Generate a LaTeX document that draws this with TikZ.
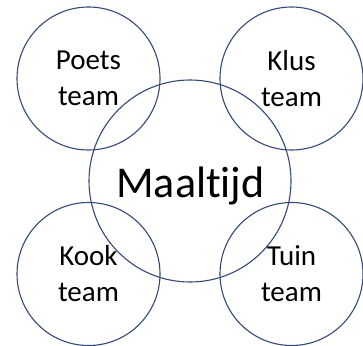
\documentclass[tikz,border=0pt]{standalone}
\usepackage{fontspec}
\setmainfont[Ligatures=NoCommon]{Carlito}

\definecolor{ringblue}{RGB}{52,74,118}

\tikzset{
	ring/.style={circle,draw=ringblue,line width=1.1pt,inner sep=0pt,minimum size=#1},
	teamtext/.style={align=center,font=\fontsize{29}{36}\selectfont},
}

\begin{document}
\begin{tikzpicture}[x=1pt,y=-1pt]
	% Fix the page to the size of the picture:
	\useasboundingbox (0,0) rectangle (363,345);

	% The four team circles, text centered inside:
	\node [ring=143pt,teamtext] (poets) at (88.5,78.5)  {Poets\\team};
	\node [ring=143pt,teamtext] (klus)  at (291.5,78.5) {Klus\\team};
	\node [ring=143pt,teamtext] (kook)  at (88.5,274)   {Kook\\team};
	\node [ring=143pt,teamtext] (tuin)  at (291.5,274)  {Tuin\\team};

	% The big circle in the middle overlaps all four:
	\node [ring=202pt] (maaltijd) at (190,181) {};
	\node [anchor=base,font=\fontsize{44}{52}\selectfont] (maaltekst) at (190.5,197) {Maaltijd};
\end{tikzpicture}
\end{document}
